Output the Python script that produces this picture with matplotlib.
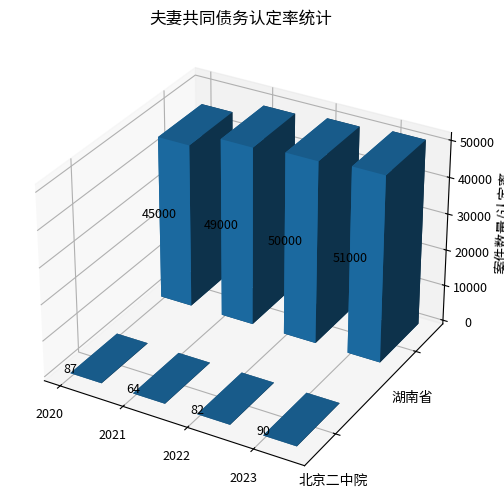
import numpy as np
import matplotlib
matplotlib.use('Agg')
import matplotlib.pyplot as plt
from matplotlib.transforms import ScaledTranslation

plt.rcParams['font.family'] = ['Noto Sans CJK SC', 'DejaVu Sans']
plt.rcParams['axes.unicode_minus'] = False

years = ['2020', '2021', '2022', '2023']
groups = ['北京二中院', '湖南省']
beijing = [87, 64, 82, 90]
hunan = [45000, 49000, 50000, 51000]

fig = plt.figure(figsize=(5.04, 5.04), dpi=100)
ax = fig.add_axes([0.0157, 0.018, 0.925, 0.919], projection='3d')
w, d = 0.5, 0.5
for yi, vals in enumerate([beijing, hunan]):
    for xi, v in enumerate(vals):
        ax.bar3d(xi, yi, 0, w, d, v, color='#1f77b4', shade=True)
        ax.text(xi, yi, v / 2, str(v), ha='center', fontsize=9, zorder=100)
ax.set_xticks(np.arange(len(years)))
ax.set_xticklabels(years, fontsize=9)
ax.set_yticks(np.arange(len(groups)) + d / 2)
ax.set_yticklabels(groups, fontsize=10)
shift = ScaledTranslation(-20 / 100, -22 / 100, fig.dpi_scale_trans)
for lab in ax.get_yticklabels():
    # mplot3d resets tick-label transforms on every draw; keep the offset in place
    lab.set_transform(ax.transData + shift)
    lab.set_transform = lambda t: None
ax.set_zlabel('案件数量/认定率', fontsize=10)
ax.tick_params(axis='z', labelsize=9)
ax.set_title('夫妻共同债务认定率统计', fontsize=12)
fig.savefig('out.png', dpi=100)
